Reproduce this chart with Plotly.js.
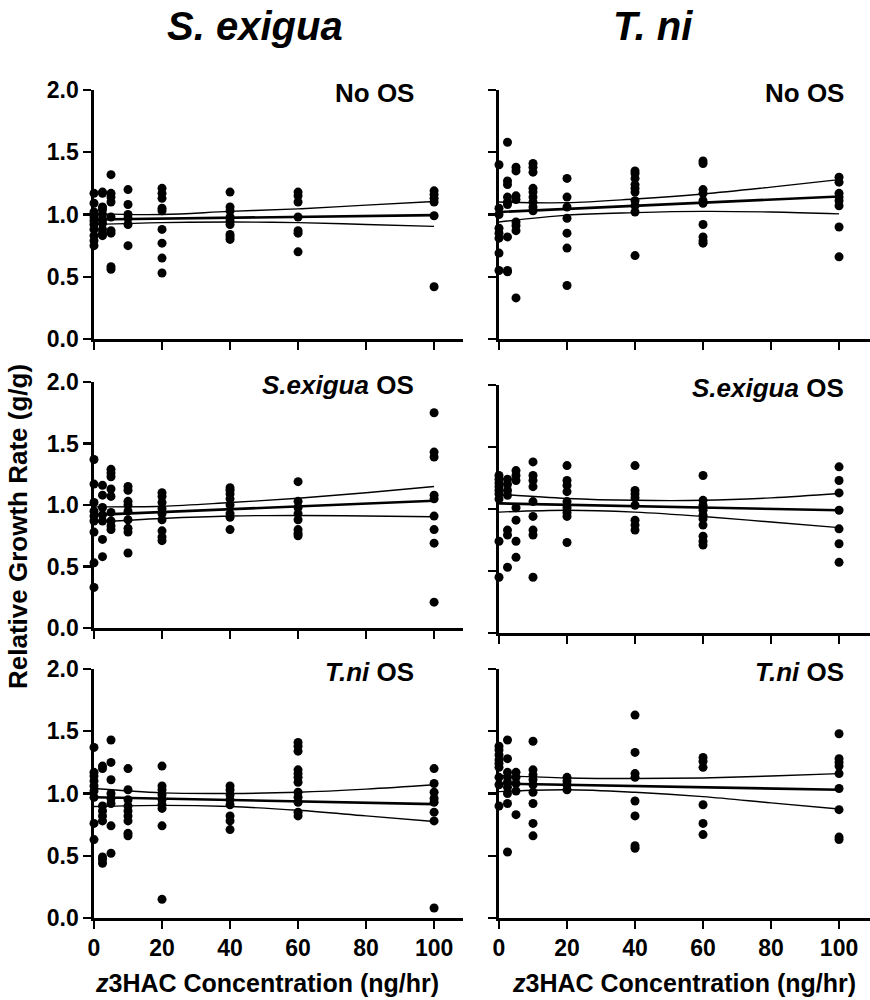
<!DOCTYPE html>
<html><head><meta charset="utf-8">
<script src="https://cdn.plot.ly/plotly-3.0.1.min.js"></script>
<style>body{margin:0;background:#fff;} #chart{width:870px;height:1000px;}</style>
</head><body><div id="chart"></div>
<script>
// Dose levels (x categories, ng/hr)
const doses = [0, 2.5, 5, 10, 20, 40, 60, 100];

// Relative growth rate values, one inner list per dose
const seNoOS = [
 [1.17, 1.09, 1.02, 0.98, 0.95, 0.92, 0.88, 0.83, 0.79, 0.75],
 [1.18, 1.17, 1.06, 1.04, 1.00, 0.96, 0.93, 0.88, 0.85, 0.83],
 [1.32, 1.17, 1.14, 1.10, 0.98, 0.87, 0.85, 0.58, 0.56],
 [1.20, 1.08, 1.00, 0.97, 0.92, 0.75],
 [1.21, 1.17, 1.13, 1.05, 1.03, 0.88, 0.77, 0.65, 0.53],
 [1.18, 1.06, 1.03, 0.98, 0.95, 0.92, 0.84, 0.82, 0.80],
 [1.18, 1.15, 1.10, 0.98, 0.87, 0.85, 0.70],
 [1.19, 1.16, 1.13, 1.10, 0.99, 0.42]
];
const tnNoOS = [
 [1.40, 1.05, 1.00, 0.89, 0.85, 0.81, 0.69, 0.55],
 [1.58, 1.27, 1.24, 1.14, 1.10, 1.08, 0.82, 0.55, 0.54],
 [1.38, 1.35, 1.15, 1.12, 0.94, 0.91, 0.87, 0.33],
 [1.41, 1.38, 1.34, 1.21, 1.18, 1.14, 1.10, 1.06, 1.03],
 [1.29, 1.14, 1.06, 0.97, 0.85, 0.73, 0.43],
 [1.35, 1.33, 1.29, 1.24, 1.21, 1.18, 1.11, 1.07, 1.02, 0.67],
 [1.43, 1.41, 1.20, 1.17, 1.11, 1.09, 0.92, 0.82, 0.79, 0.77],
 [1.30, 1.26, 1.17, 1.14, 1.11, 1.07, 0.90, 0.66]
];
const seSeOS = [
 [1.37, 1.17, 1.02, 0.95, 0.91, 0.87, 0.78, 0.53, 0.33],
 [1.16, 1.08, 0.98, 0.92, 0.87, 0.72, 0.58],
 [1.29, 1.26, 1.23, 1.13, 1.07, 0.94, 0.87, 0.83, 0.80],
 [1.15, 1.12, 1.03, 1.00, 0.95, 0.88, 0.81, 0.78, 0.61],
 [1.10, 1.07, 1.02, 0.97, 0.93, 0.88, 0.79, 0.74, 0.71],
 [1.14, 1.12, 1.09, 1.05, 1.00, 0.93, 0.90, 0.80],
 [1.19, 1.03, 0.98, 0.93, 0.88, 0.80, 0.77, 0.75],
 [1.75, 1.43, 1.39, 1.08, 1.05, 0.91, 0.80, 0.69, 0.21]
];
const tnSeOS = [
 [1.27, 1.24, 1.21, 1.18, 1.15, 1.12, 1.08, 0.74, 0.45],
 [1.24, 1.20, 1.15, 1.11, 0.83, 0.79, 0.53],
 [1.31, 1.27, 1.23, 1.01, 0.91, 0.74, 0.61],
 [1.38, 1.27, 1.23, 1.18, 1.06, 0.94, 0.83, 0.79, 0.45],
 [1.35, 1.23, 1.19, 1.14, 1.06, 1.01, 0.97, 0.94, 0.73],
 [1.35, 1.15, 1.12, 1.09, 1.03, 0.91, 0.87, 0.83],
 [1.27, 1.07, 1.03, 0.99, 0.95, 0.92, 0.87, 0.78, 0.74, 0.71],
 [1.34, 1.23, 1.13, 0.99, 0.84, 0.72, 0.57]
];
const seTnOS = [
 [1.37, 1.17, 1.14, 1.10, 1.06, 1.02, 0.97, 0.76, 0.63],
 [1.22, 1.20, 0.90, 0.86, 0.82, 0.78, 0.49, 0.47, 0.44],
 [1.43, 1.25, 1.11, 1.00, 0.96, 0.92, 0.74, 0.52],
 [1.20, 1.03, 0.95, 0.90, 0.86, 0.82, 0.78, 0.68, 0.66],
 [1.22, 1.06, 1.03, 0.99, 0.95, 0.91, 0.88, 0.74, 0.15],
 [1.06, 1.03, 0.99, 0.95, 0.91, 0.82, 0.78, 0.71],
 [1.41, 1.38, 1.34, 1.19, 1.16, 1.13, 1.09, 1.01, 0.97, 0.93, 0.85, 0.82],
 [1.20, 1.08, 1.01, 0.96, 0.93, 0.85, 0.78, 0.08]
];
const tnTnOS = [
 [1.38, 1.35, 1.31, 1.27, 1.24, 1.21, 1.13, 1.07, 0.90],
 [1.43, 1.28, 1.17, 1.13, 1.09, 1.05, 1.00, 0.92, 0.53],
 [1.17, 1.13, 1.08, 1.02, 0.83],
 [1.42, 1.19, 1.15, 1.11, 1.07, 1.01, 0.92, 0.76, 0.66],
 [1.13, 1.10, 1.07, 1.03],
 [1.63, 1.33, 1.16, 1.13, 0.94, 0.82, 0.58, 0.56],
 [1.29, 1.26, 1.21, 0.91, 0.76, 0.67],
 [1.48, 1.28, 1.25, 1.22, 1.16, 1.04, 0.87, 0.65, 0.63]
];

// Regression line (ends) and 95% confidence band values
const fitX = [0, 100];
const bandX = [0, 20, 40, 60, 80, 100];
const seNoOSFit = [0.96, 0.995];
const seNoOSUp  = [1.005, 1.0, 1.025, 1.045, 1.075, 1.105];
const seNoOSLo  = [0.92, 0.935, 0.94, 0.935, 0.92, 0.905];
const tnNoOSFit = [1.02, 1.145];
const tnNoOSUp  = [1.10, 1.095, 1.125, 1.165, 1.22, 1.28];
const tnNoOSLo  = [0.94, 0.995, 1.015, 1.025, 1.02, 1.005];
const seSeOSFit = [0.92, 1.035];
const seSeOSUp  = [0.985, 0.99, 1.02, 1.055, 1.10, 1.15];
const seSeOSLo  = [0.86, 0.89, 0.91, 0.915, 0.91, 0.905];
const tnSeOSFit = [1.045, 0.99];
const tnSeOSUp  = [1.12, 1.085, 1.07, 1.07, 1.09, 1.125];
const tnSeOSLo  = [0.975, 0.99, 0.975, 0.94, 0.895, 0.85];
const seTnOSFit = [0.97, 0.915];
const seTnOSUp  = [1.04, 1.005, 1.00, 1.01, 1.035, 1.07];
const seTnOSLo  = [0.895, 0.905, 0.895, 0.865, 0.82, 0.775];
const tnTnOSFit = [1.08, 1.03];
const tnTnOSUp  = [1.145, 1.125, 1.12, 1.125, 1.14, 1.16];
const tnTnOSLo  = [1.015, 1.03, 1.01, 0.975, 0.925, 0.875];

// Text
const colTitles = ['S. exigua', 'T. ni'];
const panelLabels = ['No OS', 'No OS', '<i>S.exigua</i> OS', '<i>S.exigua</i> OS', '<i>T.ni</i> OS', '<i>T.ni</i> OS'];
const yTitle = 'Relative Growth Rate (g/g)';
const xTitle = '<i>z</i>3HAC Concentration (ng/hr)';
const xTicks = [0, 20, 40, 60, 80, 100];
const yTicks = [0, 0.5, 1.0, 1.5, 2.0];
const yTickText = ['0.0', '0.5', '1.0', '1.5', '2.0'];

const panels = [
  {pts: seNoOS, fit: seNoOSFit, up: seNoOSUp, lo: seNoOSLo},
  {pts: tnNoOS, fit: tnNoOSFit, up: tnNoOSUp, lo: tnNoOSLo},
  {pts: seSeOS, fit: seSeOSFit, up: seSeOSUp, lo: seSeOSLo},
  {pts: tnSeOS, fit: tnSeOSFit, up: tnSeOSUp, lo: tnSeOSLo},
  {pts: seTnOS, fit: seTnOSFit, up: seTnOSUp, lo: seTnOSLo},
  {pts: tnTnOS, fit: tnTnOSFit, up: tnTnOSUp, lo: tnTnOSLo}
];

const W = 870, H = 1000;
const xDom = [[94/W, 463/W], [499/W, 1]];
const xRng = [[0, 108.5], [0, 109.1]];
const yDomPx = [[[90,339],[90,339]], [[382,628],[385,633]], [[669,918],[669,918]]];

const FONT = 'Liberation Sans, Arial, Helvetica, sans-serif';
const traces = [];
const layout = {
  width: W, height: H, margin: {l:0, r:0, t:0, b:0},
  paper_bgcolor: '#fff', plot_bgcolor: '#fff', showlegend: false,
  font: {family: FONT, color: '#000'},
  annotations: []
};

panels.forEach((p, i) => {
  const row = Math.floor(i/2), col = i % 2;
  const n = i + 1;
  const xa = n === 1 ? 'x' : 'x' + n, ya = n === 1 ? 'y' : 'y' + n;
  const xs = [], ys = [];
  doses.forEach((d, k) => p.pts[k].forEach(v => { xs.push(d); ys.push(v); }));
  traces.push({type:'scatter', mode:'lines', x: bandX, y: p.up, xaxis: xa, yaxis: ya,
    line:{color:'#000', width:1.4, shape:'spline'}, hoverinfo:'skip'});
  traces.push({type:'scatter', mode:'lines', x: bandX, y: p.lo, xaxis: xa, yaxis: ya,
    line:{color:'#000', width:1.4, shape:'spline'}, hoverinfo:'skip'});
  traces.push({type:'scatter', mode:'lines', x: fitX, y: p.fit, xaxis: xa, yaxis: ya,
    line:{color:'#000', width:2.6}, hoverinfo:'skip'});
  traces.push({type:'scatter', mode:'markers', x: xs, y: ys, xaxis: xa, yaxis: ya,
    cliponaxis: false, marker:{color:'#000', size:9, symbol:'circle'}});

  const yd = yDomPx[row][col];
  layout[n === 1 ? 'xaxis' : 'xaxis' + n] = {
    domain: xDom[col], range: xRng[col], anchor: ya,
    showline: true, linecolor: '#000', linewidth: 2.6, mirror: false,
    showgrid: false, zeroline: false,
    ticks: 'outside', ticklen: 8, tickwidth: 2.2, tickcolor: '#000',
    tickvals: xTicks, showticklabels: row === 2,
    tickfont: {family: FONT, size: 23, weight: 'bold', color: '#000'}
  };
  layout[n === 1 ? 'yaxis' : 'yaxis' + n] = {
    domain: [1 - yd[1]/H, 1 - yd[0]/H], range: [0, 2], anchor: xa,
    showline: true, linecolor: '#000', linewidth: 2.6,
    showgrid: false, zeroline: false,
    ticks: 'outside', ticklen: 8, tickwidth: 2.2, tickcolor: '#000',
    tickvals: yTicks, ticktext: yTickText, showticklabels: col === 0,
    tickfont: {family: FONT, size: 23, weight: 'bold', color: '#000'}
  };
  layout.annotations.push({
    xref:'paper', yref:'paper', x: (col === 0 ? 416 : 846)/W, y: 1 - (yd[0] + 3)/H,
    xanchor:'right', yanchor:'middle', showarrow:false, text: panelLabels[i],
    font:{family: FONT, size: 26, weight:'bold', color:'#000'}
  });
});

// Column titles
[[255, colTitles[0]], [653, colTitles[1]]].forEach(([px, t]) => {
  layout.annotations.push({xref:'paper', yref:'paper', x: px/W, y: 1 - 26/H,
    xanchor:'center', yanchor:'middle', showarrow:false, text:'<i>' + t + '</i>',
    font:{family: FONT, size: 40, weight:'bold', color:'#000'}});
});
// Y title
layout.annotations.push({xref:'paper', yref:'paper', x: 18/W, y: 1 - 527/H,
  xanchor:'center', yanchor:'middle', showarrow:false, textangle:-90, text: yTitle,
  font:{family: FONT, size: 26, weight:'bold', color:'#000'}});
// X titles
[267, 684].forEach(px => {
  layout.annotations.push({xref:'paper', yref:'paper', x: px/W, y: 1 - 983/H,
    xanchor:'center', yanchor:'middle', showarrow:false, text: xTitle,
    font:{family: FONT, size: 25, weight:'bold', color:'#000'}});
});

Plotly.newPlot('chart', traces, layout, {staticPlot: true, displayModeBar: false});
</script>
</body></html>
